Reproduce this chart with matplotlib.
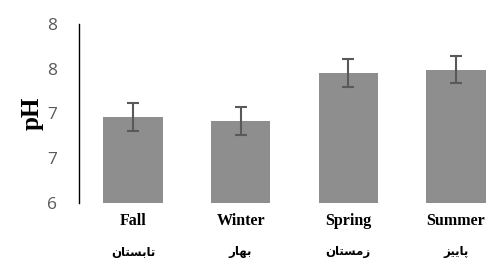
import matplotlib
matplotlib.use('Agg')
import matplotlib.pyplot as plt
from matplotlib.transforms import blended_transform_factory

# data
seasons = ['Fall', 'Winter', 'Spring', 'Summer']
seasons_fa = ['تابستان', 'بهار', 'زمستان', 'پاییز']
ph_mean = [6.96, 6.92, 7.45, 7.49]
ph_err = [0.155, 0.155, 0.155, 0.155]
y_ticks = [6, 6.5, 7, 7.5, 8]
y_tick_labels = ['6', '7', '7', '8', '8']

# contextual forms: isolated, final, initial, medial
FORMS = {
    'ا': ('\uFE8D', '\uFE8E', None, None),
    'ر': ('\uFEAD', '\uFEAE', None, None),
    'ز': ('\uFEAF', '\uFEB0', None, None),
    'ب': ('\uFE8F', '\uFE90', '\uFE91', '\uFE92'),
    'ت': ('\uFE95', '\uFE96', '\uFE97', '\uFE98'),
    'س': ('\uFEB1', '\uFEB2', '\uFEB3', '\uFEB4'),
    'ن': ('\uFEE5', '\uFEE6', '\uFEE7', '\uFEE8'),
    'ه': ('\uFEE9', '\uFEEA', '\uFEEB', '\uFEEC'),
    'م': ('\uFEE1', '\uFEE2', '\uFEE3', '\uFEE4'),
    'پ': ('\uFB56', '\uFB57', '\uFB58', '\uFB59'),
    'ی': ('\uFBFC', '\uFBFD', '\uFBFE', '\uFBFF'),
}


def shape(word):
    # simple persian shaping + right-to-left order for matplotlib
    out = []
    for i, ch in enumerate(word):
        iso, fin, ini, med = FORMS[ch]
        prev = i > 0 and FORMS[word[i - 1]][2] is not None
        nxt = i < len(word) - 1 and ini is not None
        if prev and nxt:
            out.append(med)
        elif prev:
            out.append(fin)
        elif nxt:
            out.append(ini)
        else:
            out.append(iso)
    return ''.join(reversed(out))


fig = plt.figure(figsize=(4.97, 2.6), dpi=100)
ax = fig.add_axes([0.159, 0.219, 0.867, 0.689])

x = range(len(seasons))
ax.bar(x, ph_mean, width=0.55, color='#8e8e8e', yerr=ph_err,
       error_kw=dict(ecolor='#595959', elinewidth=1.5, capsize=4.5, capthick=1.5))

ax.set_xlim(-0.5, 3.5)
ax.set_ylim(6, 8)
ax.set_yticks(y_ticks)
ax.set_yticklabels(y_tick_labels, fontsize=12.5, color='#595959', family='Open Sans')
ax.set_xticks(list(x))
ax.set_xticklabels(seasons, fontsize=11.5, fontweight='bold', family='Liberation Serif')
ax.tick_params(axis='both', length=0)
ax.tick_params(axis='y', pad=16)
ax.tick_params(axis='x', pad=7)

for s in ['top', 'right', 'bottom']:
    ax.spines[s].set_visible(False)
ax.spines['left'].set_linewidth(1)

ax.set_ylabel('pH', fontsize=18, fontweight='bold', family='Liberation Serif', labelpad=2)

trans = blended_transform_factory(ax.transData, fig.transFigure)
for i, name in enumerate(seasons_fa):
    ax.text(i, 1 - 252 / 260, shape(name), transform=trans, ha='center', va='center',
            fontsize=8.5, fontweight='bold', family='DejaVu Sans')

plt.savefig('out.png', dpi=100)
